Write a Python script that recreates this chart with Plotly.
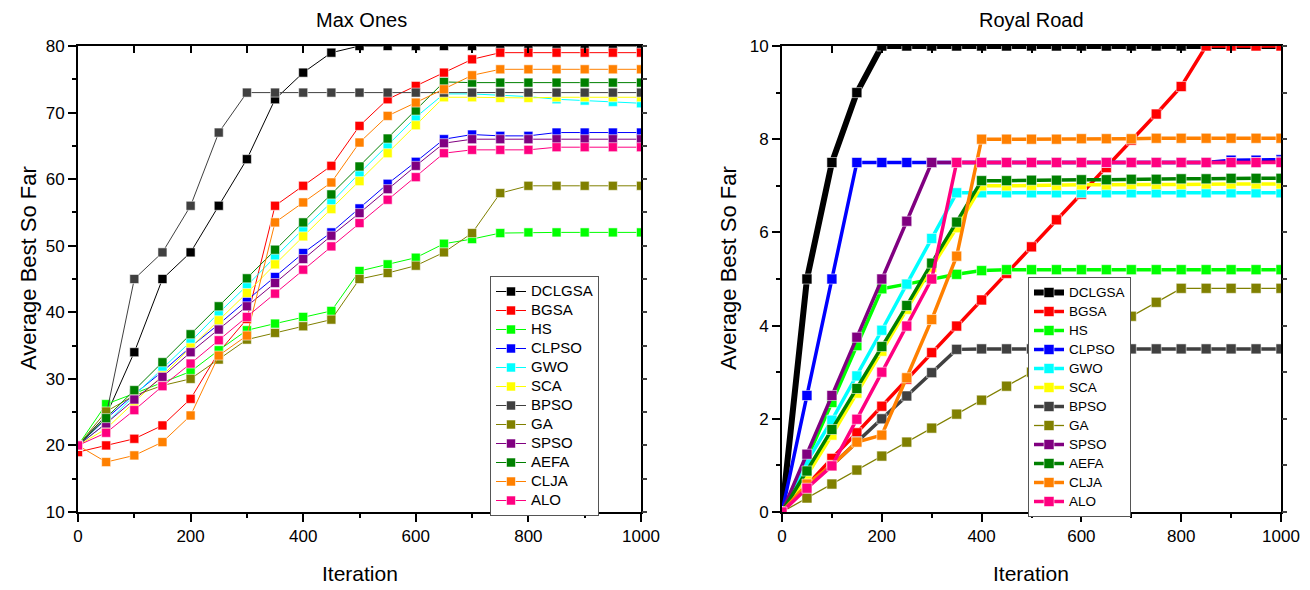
import plotly.graph_objects as go

iterations = [0, 50, 100, 150, 200, 250, 300, 350, 400, 450, 500,
              550, 600, 650, 700, 750, 800, 850, 900, 950, 1000]

names = ["DCLGSA", "BGSA", "HS", "CLPSO", "GWO", "SCA", "BPSO", "GA",
         "SPSO", "AEFA", "CLJA", "ALO"]
colors = ["#000000", "#FF0000", "#00FF00", "#0000FF", "#00FFFF", "#FFFF00",
          "#404040", "#808000", "#800080", "#008000", "#FF8000", "#FF0080"]

# ---- Max Ones ----
mo_DCLGSA = [20, 24.5, 34, 45, 49, 56, 63, 72, 76, 79, 80, 80, 80, 80, 80, 80, 80, 80, 80, 80, 80]
mo_BGSA = [19, 20, 21, 23, 27, 34, 39, 56, 59, 62, 68, 72, 74, 76, 78, 79, 79, 79, 79, 79, 79]
mo_HS = [20, 26.2, 27.8, 29.5, 31.1, 34.3, 37.3, 38.3, 39.3, 40.2, 46.2, 47.2, 48.2, 50.3, 51.0, 51.9, 52, 52, 52, 52, 52]
mo_CLPSO = [20, 24.0, 27.7, 31.1, 34.8, 38.2, 41.8, 45.3, 48.9, 52.0, 55.6, 59.3, 62.6, 66.0, 66.7, 66.5, 66.5, 67.0, 67.0, 67.0, 67.0]
mo_GWO = [20, 23.3, 27.5, 31.5, 35.6, 39.9, 44.0, 48.3, 52.5, 56.5, 60.9, 65.1, 69.3, 72.8, 72.8, 72.6, 72.4, 72.0, 71.8, 71.6, 71.4]
mo_SCA = [20, 22.5, 26.5, 30.5, 34.7, 38.8, 42.9, 47.2, 51.4, 55.5, 59.7, 63.9, 68.1, 72.3, 72.3, 72.2, 72.2, 72.3, 72.3, 72.3, 72.3]
mo_BPSO = [20, 24.5, 45, 49, 56, 67, 73, 73, 73, 73, 73, 73, 73, 73, 73, 73, 73, 73, 73, 73, 73]
mo_GA = [20, 25.1, 27.5, 29.0, 30.0, 32.9, 35.9, 36.9, 37.9, 38.9, 45.0, 45.9, 47.0, 49.0, 51.9, 57.9, 59, 59, 59, 59, 59]
mo_SPSO = [20, 23.3, 26.9, 30.3, 34.0, 37.4, 40.9, 44.4, 48.0, 51.5, 54.9, 58.5, 62.0, 65.4, 66.0, 66.0, 66.0, 66.0, 66.0, 66.0, 66.0]
mo_AEFA = [20, 24.1, 28.3, 32.5, 36.7, 40.9, 45.1, 49.4, 53.5, 57.7, 61.9, 66.1, 70.3, 74.6, 74.5, 74.5, 74.5, 74.5, 74.5, 74.5, 74.5]
mo_CLJA = [20, 17.5, 18.5, 20.5, 24.5, 33.5, 36.5, 53.5, 56.5, 59.5, 65.5, 69.5, 71.5, 73.5, 75.6, 76.5, 76.5, 76.5, 76.5, 76.5, 76.5]
mo_ALO = [20, 21.9, 25.3, 28.9, 32.3, 35.8, 39.3, 42.8, 46.4, 49.9, 53.4, 56.9, 60.3, 63.9, 64.4, 64.4, 64.4, 64.8, 64.8, 64.8, 64.8]

# ---- Royal Road ----
rr_DCLGSA = [0, 5, 7.5, 9, 10, 10, 10, 10, 10, 10, 10, 10, 10, 10, 10, 10, 10, 10, 10, 10, 10]
rr_BGSA = [0, 0.58, 1.15, 1.7, 2.27, 2.85, 3.42, 3.99, 4.55, 5.12, 5.69, 6.27, 6.82, 7.39, 7.98, 8.54, 9.13, 10, 10, 10, 10]
rr_HS = [0, 1.15, 2.35, 3.57, 4.79, 4.89, 5.0, 5.1, 5.18, 5.2, 5.2, 5.2, 5.2, 5.2, 5.2, 5.2, 5.2, 5.2, 5.2, 5.2, 5.2]
rr_CLPSO = [0, 2.5, 5, 7.5, 7.5, 7.5, 7.5, 7.5, 7.5, 7.5, 7.5, 7.5, 7.5, 7.5, 7.5, 7.5, 7.5, 7.5, 7.55, 7.55, 7.56]
rr_GWO = [0, 1.08, 1.97, 2.92, 3.9, 4.89, 5.87, 6.85, 6.85, 6.85, 6.85, 6.85, 6.85, 6.85, 6.85, 6.85, 6.85, 6.85, 6.85, 6.85, 6.85]
rr_SCA = [0, 0.78, 1.65, 2.55, 3.45, 4.35, 5.25, 6.1, 7.0, 7.0, 7.01, 7.01, 7.02, 7.02, 7.03, 7.03, 7.03, 7.04, 7.04, 7.04, 7.04]
rr_BPSO = [0, 0.55, 1.0, 1.51, 2.0, 2.49, 2.99, 3.49, 3.5, 3.5, 3.5, 3.5, 3.5, 3.5, 3.5, 3.5, 3.5, 3.5, 3.5, 3.5, 3.5]
rr_GA = [0, 0.3, 0.6, 0.9, 1.2, 1.5, 1.8, 2.1, 2.4, 2.7, 3.0, 3.3, 3.6, 3.9, 4.2, 4.5, 4.8, 4.8, 4.8, 4.8, 4.8]
rr_SPSO = [0, 1.24, 2.5, 3.75, 5, 6.24, 7.5, 7.5, 7.5, 7.5, 7.5, 7.5, 7.5, 7.5, 7.5, 7.5, 7.5, 7.5, 7.5, 7.5, 7.52]
rr_AEFA = [0, 0.88, 1.77, 2.65, 3.55, 4.43, 5.34, 6.22, 7.11, 7.11, 7.12, 7.12, 7.13, 7.13, 7.14, 7.14, 7.15, 7.15, 7.16, 7.16, 7.16]
rr_CLJA = [0, 0.6, 1.0, 1.5, 1.65, 2.88, 4.13, 5.49, 8.0, 8.0, 8.0, 8.0, 8.01, 8.01, 8.01, 8.02, 8.02, 8.02, 8.02, 8.02, 8.02]
rr_ALO = [0, 0.51, 0.99, 1.99, 3.0, 3.99, 5.0, 7.5, 7.5, 7.5, 7.5, 7.5, 7.5, 7.5, 7.5, 7.5, 7.5, 7.5, 7.5, 7.5, 7.5]

max_ones = [mo_DCLGSA, mo_BGSA, mo_HS, mo_CLPSO, mo_GWO, mo_SCA, mo_BPSO, mo_GA,
            mo_SPSO, mo_AEFA, mo_CLJA, mo_ALO]
royal_road = [rr_DCLGSA, rr_BGSA, rr_HS, rr_CLPSO, rr_GWO, rr_SCA, rr_BPSO, rr_GA,
              rr_SPSO, rr_AEFA, rr_CLJA, rr_ALO]
rr_widths = [6, 3.5, 3.5, 3.5, 3.5, 3.5, 3.5, 1.3, 3.5, 3.5, 3.5, 3.5]

FONT = "Arial, 'Liberation Sans', sans-serif"
W, H = 1310, 590

fig = go.Figure()

for n, c, ys in zip(names, colors, max_ones):
    fig.add_trace(go.Scatter(
        x=iterations, y=ys, name='<span style="font-size:15px">%s</span>' % n,
        mode="lines+markers",
        line=dict(color=c, width=1),
        marker=dict(symbol="square", size=9, color=c,
                    line=dict(width=1, color="rgba(255,255,255,0.55)")),
        xaxis="x", yaxis="y", legend="legend"))

for n, c, ys, w in zip(names, colors, royal_road, rr_widths):
    fig.add_trace(go.Scatter(
        x=iterations, y=ys, name='<span style="font-size:13.5px">%s</span>' % n,
        mode="lines+markers",
        line=dict(color=c, width=w),
        marker=dict(symbol="square", size=10, color=c,
                    line=dict(width=1, color="rgba(255,255,255,0.55)")),
        xaxis="x2", yaxis="y2", legend="legend2"))

# empty traces that register the mirrored tick axes
fig.add_trace(go.Scatter(x=[], y=[], xaxis="x3", yaxis="y3", showlegend=False, hoverinfo="skip"))
fig.add_trace(go.Scatter(x=[], y=[], xaxis="x4", yaxis="y4", showlegend=False, hoverinfo="skip"))

def px_x(p):
    return p / W

def px_y(p):
    return (H - p) / H

ydom = [px_y(512), px_y(46)]
xdom1 = [px_x(78), px_x(641)]
xdom2 = [px_x(782), px_x(1281)]

base_x = dict(showgrid=False, zeroline=False, showline=True, linewidth=2, linecolor="black",
              mirror=True, ticks="outside", ticklen=8, tickwidth=1.5, tickcolor="black",
              tick0=0, dtick=200, range=[0, 1000],
              minor=dict(ticks="outside", dtick=100, ticklen=4, tickwidth=1.5, tickcolor="black"),
              tickfont=dict(size=17, color="black", family=FONT))
base_y = dict(showgrid=False, zeroline=False, showline=True, linewidth=2, linecolor="black",
              mirror=True, ticks="outside", ticklen=8, tickwidth=1.5, tickcolor="black",
              tickfont=dict(size=17, color="black", family=FONT))

fig.update_layout(
    width=W, height=H, autosize=False,
    margin=dict(l=0, r=0, t=0, b=0, autoexpand=False),
    paper_bgcolor="white", plot_bgcolor="white",
    font=dict(family=FONT, color="black"),
    xaxis=dict(base_x, domain=xdom1, anchor="y"),
    yaxis=dict(base_y, domain=ydom, anchor="x", range=[10, 80], tick0=10, dtick=10,
               minor=dict(ticks="outside", dtick=5, ticklen=4, tickwidth=1.5, tickcolor="black")),
    xaxis2=dict(base_x, domain=xdom2, anchor="y2"),
    yaxis2=dict(base_y, domain=ydom, anchor="x2", range=[0, 10], tick0=0, dtick=2,
                minor=dict(ticks="outside", dtick=1, ticklen=4, tickwidth=1.5, tickcolor="black")),
    # mirrored tick axes (top: inward, right: outward)
    xaxis3=dict(overlaying="x", anchor="y", side="top", range=[0, 1000], tick0=0, dtick=100,
                ticks="inside", ticklen=7, tickwidth=1.5, tickcolor="black",
                showticklabels=False, showgrid=False, zeroline=False, showline=False),
    yaxis3=dict(overlaying="y", anchor="x", side="right", range=[10, 80], tick0=10, dtick=5,
                ticks="outside", ticklen=5, tickwidth=1.5, tickcolor="#404040",
                showticklabels=False, showgrid=False, zeroline=False, showline=False),
    xaxis4=dict(overlaying="x2", anchor="y2", side="top", range=[0, 1000], tick0=0, dtick=100,
                ticks="inside", ticklen=7, tickwidth=1.5, tickcolor="black",
                showticklabels=False, showgrid=False, zeroline=False, showline=False),
    yaxis4=dict(overlaying="y2", anchor="x2", side="right", range=[0, 10], tick0=0, dtick=1,
                ticks="outside", ticklen=5, tickwidth=1.5, tickcolor="#404040",
                showticklabels=False, showgrid=False, zeroline=False, showline=False),
    legend=dict(x=px_x(490), y=px_y(276), xanchor="left", yanchor="top",
                bgcolor="white", bordercolor="#555555", borderwidth=1,
                font=dict(size=12, family=FONT, color="black"),
                tracegroupgap=0, itemwidth=30),
    legend2=dict(x=px_x(1028), y=px_y(277), xanchor="left", yanchor="top",
                 bgcolor="white", bordercolor="#555555", borderwidth=1,
                 font=dict(size=12, family=FONT, color="black"),
                 tracegroupgap=0, itemwidth=30),
    showlegend=True,
)

annotations = [
    dict(text="Max Ones", x=px_x(361), y=px_y(20), xref="paper", yref="paper",
         showarrow=False, font=dict(size=20, family=FONT, color="black"),
         xanchor="center", yanchor="middle"),
    dict(text="Royal Road", x=px_x(1031), y=px_y(20), xref="paper", yref="paper",
         showarrow=False, font=dict(size=20, family=FONT, color="black"),
         xanchor="center", yanchor="middle"),
    dict(text="Iteration", x=px_x(360), y=px_y(573), xref="paper", yref="paper",
         showarrow=False, font=dict(size=21, family=FONT, color="black"),
         xanchor="center", yanchor="middle"),
    dict(text="Iteration", x=px_x(1031), y=px_y(573), xref="paper", yref="paper",
         showarrow=False, font=dict(size=21, family=FONT, color="black"),
         xanchor="center", yanchor="middle"),
    dict(text="Average Best So Far", x=px_x(28), y=px_y(268), xref="paper", yref="paper",
         showarrow=False, textangle=-90, font=dict(size=22, family=FONT, color="black"),
         xanchor="center", yanchor="middle"),
    dict(text="Average Best So Far", x=px_x(728), y=px_y(268), xref="paper", yref="paper",
         showarrow=False, textangle=-90, font=dict(size=22, family=FONT, color="black"),
         xanchor="center", yanchor="middle"),
]
fig.update_layout(annotations=annotations)

fig.write_html("out.html")
